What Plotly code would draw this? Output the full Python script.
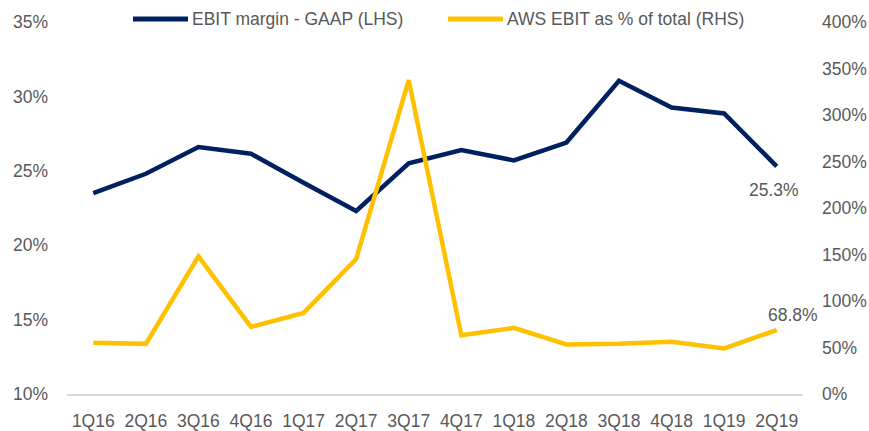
import plotly.graph_objects as go

categories = ["1Q16", "2Q16", "3Q16", "4Q16", "1Q17", "2Q17", "3Q17",
              "4Q17", "1Q18", "2Q18", "3Q18", "4Q18", "1Q19", "2Q19"]
ebit_margin_gaap = [23.5, 24.8, 26.6, 26.15, 24.2, 22.3, 25.5,
                    26.4, 25.7, 26.9, 31.05, 29.25, 28.85, 25.3]
aws_ebit_share = [55.0, 53.9, 148.0, 72.2, 87.2, 145.1, 337.5,
                  63.1, 71.1, 53.3, 53.9, 56.1, 49.0, 68.8]

series_names = ["EBIT margin - GAAP (LHS)", "AWS EBIT as % of total (RHS)"]
left_ticks = [10, 15, 20, 25, 30, 35]
right_ticks = [0, 50, 100, 150, 200, 250, 300, 350, 400]

NAVY = "#002060"
GOLD = "#FFC000"
TXT = "#595959"
FONT = "Liberation Sans, Arial, sans-serif"
FS = 17.5

W, H = 869, 431
ML, MR, MT, MB = 67, 66, 22, 37
PW, PH = W - ML - MR, H - MT - MB


def px_to_paper_x(px):
    return (px - ML) / PW


def px_to_paper_y(py):
    return (H - MB - py) / PH


fig = go.Figure()
colors = [NAVY, GOLD]
fig.add_trace(go.Scatter(x=categories, y=ebit_margin_gaap, name=series_names[0],
                         mode="lines", line=dict(color=NAVY, width=4.5),
                         yaxis="y"))
fig.add_trace(go.Scatter(x=categories, y=aws_ebit_share, name=series_names[1],
                         mode="lines", line=dict(color=GOLD, width=4.5),
                         yaxis="y2"))

# legend drawn in paper space (keeps the plot area from being pushed down)
legend_line_starts = [133, 448]
legend_y = px_to_paper_y(19)
for name, col, x0 in zip(series_names, colors, legend_line_starts):
    fig.add_shape(type="line", xref="paper", yref="paper",
                  x0=px_to_paper_x(x0), x1=px_to_paper_x(x0 + 55),
                  y0=legend_y, y1=legend_y,
                  line=dict(color=col, width=5))
    fig.add_annotation(xref="paper", yref="paper", x=px_to_paper_x(x0 + 57),
                       y=legend_y, text=name, showarrow=False,
                       xanchor="left", yanchor="middle",
                       font=dict(family=FONT, size=FS, color=TXT))

fig.add_annotation(x=categories[-1], y=ebit_margin_gaap[-1], xref="x", yref="y",
                   text=f"{ebit_margin_gaap[-1]:.1f}%", showarrow=False,
                   yanchor="top", xanchor="center", yshift=-12, xshift=-3,
                   font=dict(family=FONT, size=FS, color=TXT))
fig.add_annotation(x=categories[-1], y=aws_ebit_share[-1], xref="x", yref="y2",
                   text=f"{aws_ebit_share[-1]:.1f}%", showarrow=False,
                   yanchor="bottom", xanchor="center", xshift=16, yshift=3,
                   font=dict(family=FONT, size=FS, color=TXT))

fig.update_layout(
    width=W, height=H,
    margin=dict(l=ML, r=MR, t=MT, b=MB),
    paper_bgcolor="white", plot_bgcolor="white",
    font=dict(family=FONT, size=FS, color=TXT),
    showlegend=False,
    xaxis=dict(type="category", range=[-0.5, len(categories) - 0.5],
               showgrid=False, zeroline=False, automargin=False,
               showline=True, linecolor="#D9D9D9", linewidth=2,
               ticks="", tickfont=dict(family=FONT, size=FS, color=TXT),
               ticklabelstandoff=10),
    yaxis=dict(range=[10, 35], tickvals=left_ticks, automargin=False,
               ticktext=[f"{v}%" for v in left_ticks],
               showgrid=False, zeroline=False, showline=False, ticks="",
               tickfont=dict(family=FONT, size=FS, color=TXT),
               ticklabelstandoff=18),
    yaxis2=dict(range=[0, 400], tickvals=right_ticks, automargin=False,
                ticktext=[f"{v}%" for v in right_ticks],
                overlaying="y", side="right",
                showgrid=False, zeroline=False, showline=False, ticks="",
                tickfont=dict(family=FONT, size=FS, color=TXT),
                ticklabelstandoff=18),
)

fig.write_html("out.html", config={"displayModeBar": False},
               post_script="document.body.style.margin='0';document.body.style.overflow='hidden';")
